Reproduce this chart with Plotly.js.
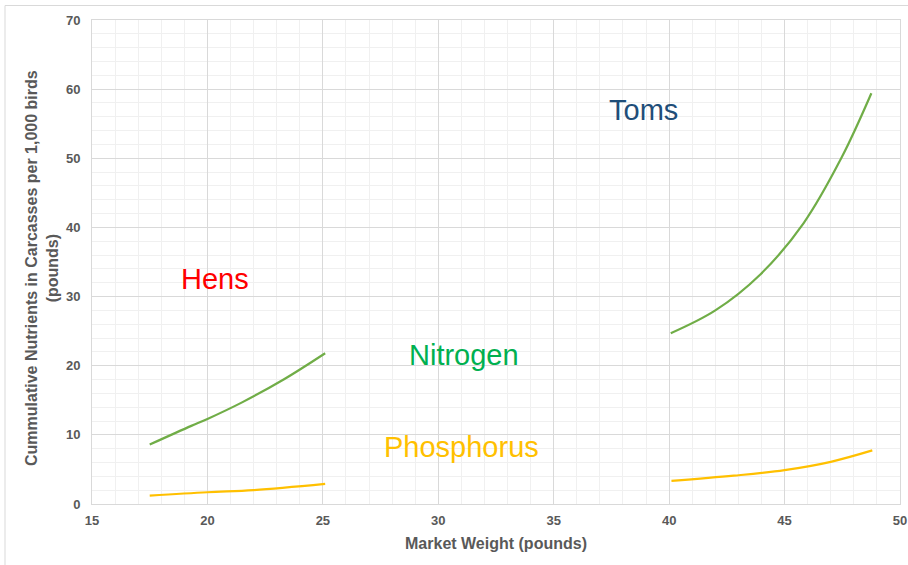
<!DOCTYPE html>
<html>
<head>
<meta charset="utf-8">
<script src="https://cdn.plot.ly/plotly-3.0.1.min.js"></script>
<style>html,body{margin:0;padding:0;background:#fff;}#chart{width:908px;height:565px;}</style>
</head>
<body>
<div id="chart"></div>
<script>
// Hens
const hensWeight = [17.5, 19.3, 20.0, 21.5, 23.3, 25.1];
const hensNitrogen = [8.6, 11.3, 12.3, 14.7, 18.0, 21.8];
const hensPhosWeight = [17.5, 20.0, 22.0, 25.1];
const hensPhosphorus = [1.2, 1.7, 2.0, 2.9];
// Toms
const tomsWeight = [40.07, 42.0, 43.95, 45.82, 47.47, 48.76];
const tomsNitrogen = [24.7, 28.0, 33.2, 40.6, 50.1, 59.4];
const tomsPhosWeight = [40.1, 42.8, 45.0, 47.0, 48.8];
const tomsPhosphorus = [3.35, 4.1, 4.9, 6.1, 7.75];

const yTitle = 'Cummulative Nutrients in Carcasses per 1,000 birds<br>(pounds)';
const xTitle = 'Market Weight (pounds)';

const green = '#70AD47';
const gold = '#FFC000';

function line(x, y, color) {
  return {x: x, y: y, type: 'scatter', mode: 'lines',
    line: {color: color, width: 2.2, shape: 'spline', smoothing: 1},
    hoverinfo: 'skip', showlegend: false};
}

const data = [
  line(hensWeight, hensNitrogen, green),
  line(hensPhosWeight, hensPhosphorus, gold),
  line(tomsWeight, tomsNitrogen, green),
  line(tomsPhosWeight, tomsPhosphorus, gold)
];

const tickFont = {family: 'Liberation Sans, Arial, sans-serif', size: 13, color: '#595959', weight: 'bold'};
const titleFont = {family: 'Liberation Sans, Arial, sans-serif', size: 16, color: '#595959', weight: 'bold'};
const annFont = (c) => ({family: 'Liberation Sans, Arial, sans-serif', size: 29, color: c});

const layout = {
  width: 908, height: 565,
  margin: {l: 92, r: 8, t: 20, b: 61},
  paper_bgcolor: '#ffffff', plot_bgcolor: '#ffffff',
  showlegend: false,
  xaxis: {
    range: [15, 50], dtick: 5, tick0: 15,
    showgrid: true, gridcolor: '#d9d9d9', gridwidth: 1,
    minor: {dtick: 1, showgrid: true, gridcolor: '#f0f0f0', gridwidth: 1},
    zeroline: false, showline: true, linecolor: '#d9d9d9', linewidth: 1, mirror: true,
    ticks: '', tickfont: tickFont, ticklabelstandoff: 4,
    title: {text: xTitle, font: titleFont, standoff: 11}
  },
  yaxis: {
    range: [0, 70], dtick: 10, tick0: 0,
    showgrid: true, gridcolor: '#d9d9d9', gridwidth: 1,
    minor: {dtick: 2, showgrid: true, gridcolor: '#f0f0f0', gridwidth: 1},
    zeroline: false, showline: true, linecolor: '#d9d9d9', linewidth: 1, mirror: true,
    ticks: '', tickfont: tickFont, ticklabelstandoff: 8
  },
  shapes: [{
    type: 'rect', xref: 'paper', yref: 'paper',
    x0: (5 - 92) / 808, x1: (915 - 92) / 808,
    y0: (504 - 575) / 484, y1: (504 - 5.5) / 484,
    line: {color: '#d9d9d9', width: 1}, fillcolor: 'rgba(0,0,0,0)', layer: 'below'
  }],
  annotations: [
    {x: (41.5 - 92) / 808, y: (504 - 268.5) / 484, xref: 'paper', yref: 'paper',
     text: yTitle, textangle: -90, showarrow: false, xanchor: 'center', yanchor: 'middle', font: titleFont},
    {x: 20.33, y: 32.5, xref: 'x', yref: 'y', text: 'Hens', showarrow: false, font: annFont('#FF0000')},
    {x: 38.9, y: 57.0, xref: 'x', yref: 'y', text: 'Toms', showarrow: false, font: annFont('#1F4E79')},
    {x: 31.1, y: 21.6, xref: 'x', yref: 'y', text: 'Nitrogen', showarrow: false, font: annFont('#00B050')},
    {x: 31.0, y: 8.2, xref: 'x', yref: 'y', text: 'Phosphorus', showarrow: false, font: annFont('#FFC000')}
  ]
};

Plotly.newPlot('chart', data, layout, {staticPlot: true, displayModeBar: false});
</script>
</body>
</html>
